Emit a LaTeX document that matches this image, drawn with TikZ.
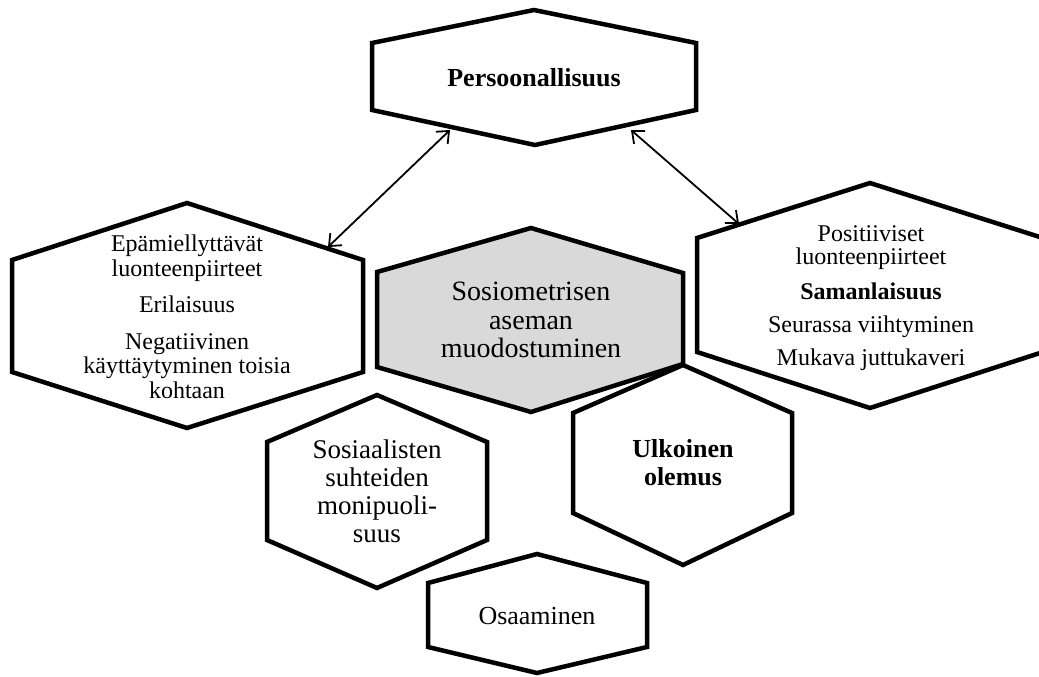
\documentclass[tikz,border=0pt]{standalone}
\usepackage{fontspec}
\setmainfont{Liberation Serif}
\usetikzlibrary{arrows.meta}
\tikzset{
  hexline/.style={line width=4.5pt, line join=miter, draw=black, fill=white},
  hexgray/.style={hexline, fill=black!15},
  conn/.style={line width=1.8pt, {Straight Barb[length=10pt,width=17pt]}-{Straight Barb[length=10pt,width=17pt]}},
  lbl/.style={align=center, inner sep=0pt},
}
\begin{document}
\begin{tikzpicture}[x=1pt,y=-1pt]
\useasboundingbox (0,0) rectangle (1039,677);
% hexagons
\draw[hexline] (534,10) -- (696,43) -- (696,110) -- (535,145) -- (372,110) -- (372,43) -- cycle;
\draw[hexline] (187,203) -- (363,260) -- (363,372) -- (187,428) -- (12,372) -- (12,260) -- cycle;
\draw[hexline] (870,183) -- (1043,238) -- (1043,352) -- (870,408) -- (697,352) -- (697,238) -- cycle;
\draw[hexgray] (531,228) -- (683,273) -- (683,364) -- (531,412) -- (377,367) -- (377,272) -- cycle;
\draw[hexline] (377,395) -- (487,442) -- (487,540) -- (377,588) -- (267,540) -- (267,442) -- cycle;
\draw[hexline] (683,365) -- (792,413) -- (792,513) -- (683,565) -- (573,513) -- (573,413) -- cycle;
\draw[hexline] (537,554) -- (647,583) -- (647,647) -- (537,673) -- (428,647) -- (428,583) -- cycle;
% labels
\node[lbl, anchor=base, font=\fontsize{26}{28}\selectfont\bfseries] (pers) at (534,86) {Persoonallisuus};
\node[lbl, font=\fontsize{24}{24.5}\selectfont] (neg) at (187,317)
  {Epämiellyttävät\\luonteenpiirteet\\[12pt]Erilaisuus\\[12pt]Negatiivinen\\käyttäytyminen toisia\\kohtaan};
\node[lbl, font=\fontsize{24}{23}\selectfont] (pos) at (871,298)
  {Positiiviset\\luonteenpiirteet\\[12pt]\textbf{Samanlaisuus}\\[10pt]Seurassa viihtyminen\\[10pt]Mukava juttukaveri};
\node[lbl, font=\fontsize{28}{28.5}\selectfont] (soc) at (531,320)
  {Sosiometrisen\\aseman\\muodostuminen};
\node[lbl, font=\fontsize{27}{28}\selectfont] (sos) at (377,491)
  {Sosiaalisten\\suhteiden\\monipuoli-\\suus};
\node[lbl, font=\fontsize{26}{28}\selectfont\bfseries] (ulk) at (683,463)
  {Ulkoinen\\olemus};
\node[lbl, anchor=base, font=\fontsize{26}{28}\selectfont] (osa) at (537,624) {Osaaminen};
% connectors
\coordinate (p1) at (450,130);
\coordinate (e1) at (328,247);
\coordinate (p2) at (631,130);
\coordinate (r1) at (739,224);
\draw[conn] (p1) -- (e1);
\draw[conn] (p2) -- (r1);
\end{tikzpicture}
\end{document}
